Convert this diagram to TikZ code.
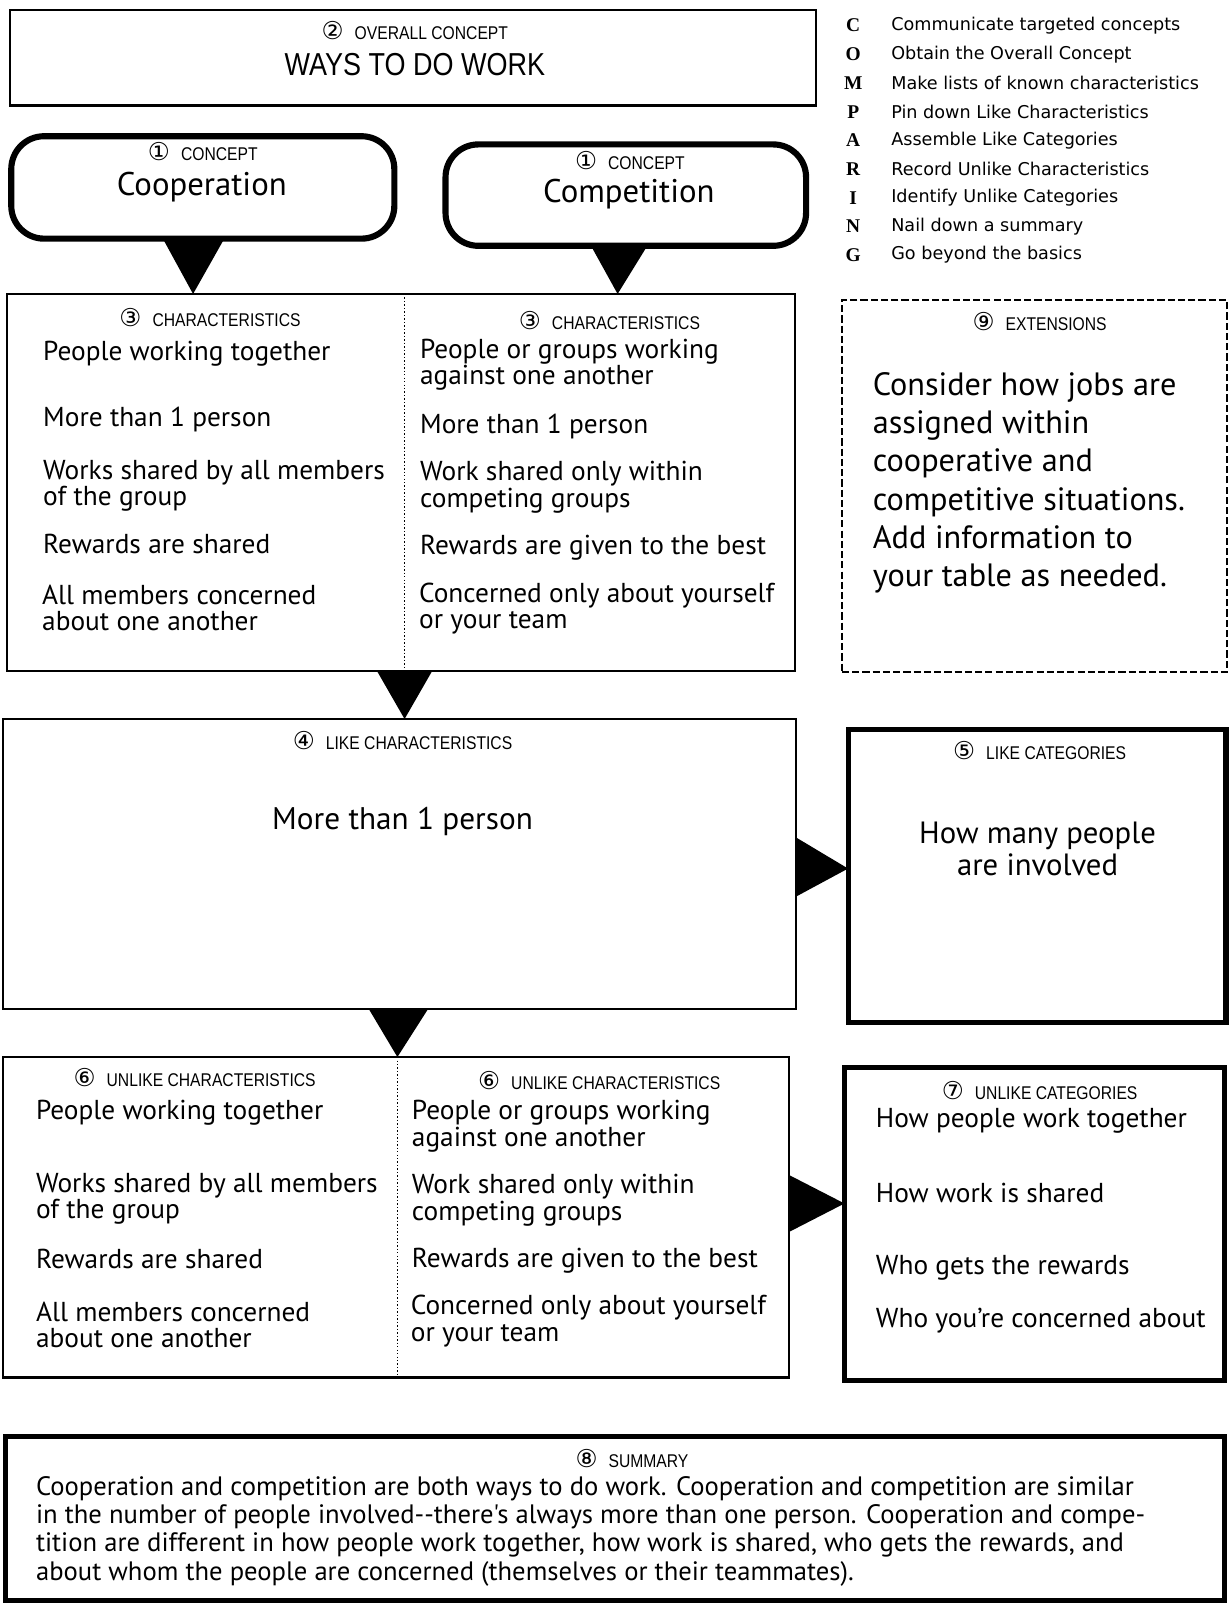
\documentclass[tikz,border=0pt]{standalone}
\usepackage{fontspec}
\setmainfont{PT Sans}
\newfontfamily\hand{PT Sans}
\newfontfamily\capsfont[FakeStretch=0.85]{Liberation Sans}
\newfontfamily\numfont{DejaVu Sans}
\newfontfamily\listfont{DejaVu Sans}
\newfontfamily\keyfont{Liberation Serif}
\usetikzlibrary{calc}

\newcommand\tagno[1]{{\numfont\fontsize{24}{24}\selectfont #1}\hspace{0.6em}}

\tikzset{
  frame/.style={draw, line width=2.2pt, inner sep=0pt, outer sep=0pt, anchor=north west},
  heavy/.style={draw, line width=5pt, inner sep=0pt, outer sep=0pt, anchor=north west},
  pill/.style={draw, line width=6pt, rounded corners=32pt, inner sep=0pt, outer sep=0pt, anchor=north west},
  extbox/.style={draw, line width=1.8pt, dash pattern=on 7pt off 3pt, inner sep=0pt, outer sep=0pt, anchor=north west},
  lbl/.style={font=\capsfont\fontsize{18}{20}\selectfont, inner sep=0pt},
  item/.style={font=\hand\fontsize{26.7}{26}\selectfont, align=left, anchor=west, inner sep=0pt},
  bigitem/.style={font=\hand\fontsize{30}{31}\selectfont, align=center, inner sep=0pt},
  keyletter/.style={font=\keyfont\bfseries\fontsize{19}{20}\selectfont, inner sep=0pt},
  keytext/.style={font=\listfont\fontsize{17.2}{18}\selectfont, anchor=west, inner sep=0pt},
  pointer/.style={fill=black},
  divider/.style={line width=1.4pt, dotted}
}

\begin{document}
\begin{tikzpicture}[x=1pt,y=-1pt]
\useasboundingbox (0,0) rectangle (1202,1568);

% ---- frames ----
\node[frame, minimum width=787pt, minimum height=93pt] (overall) at (10,10) {};
\node[pill, minimum width=374pt, minimum height=100pt] (coop) at (11,133) {};
\node[pill, minimum width=352pt, minimum height=99pt] (comp) at (435,141) {};
\node[frame, minimum width=769pt, minimum height=368pt] (chars) at (7,287) {};
\node[extbox, minimum width=376pt, minimum height=363pt] (ext) at (822,293) {};
\node[frame, minimum width=774pt, minimum height=283pt] (like) at (3,702) {};
\node[heavy, minimum width=369pt, minimum height=286pt] (likecat) at (828,712) {};
\node[frame, minimum width=767pt, minimum height=313pt] (unlike) at (3,1032) {};
\node[heavy, minimum width=371pt, minimum height=305pt] (unlikecat) at (824.5,1042.5) {};
\node[heavy, minimum width=1190pt, minimum height=160pt] (summary) at (5.5,1402.5) {};

% ---- column dividers ----
\coordinate (cdivtop) at ($(chars.north)+(3.5,0)$);
\coordinate (cdivbot) at ($(chars.south)+(3.5,0)$);
\draw[divider] (cdivtop) -- (cdivbot);
\coordinate (udivtop) at ($(unlike.north)+(1.5,0)$);
\coordinate (udivbot) at ($(unlike.south)+(1.5,0)$);
\draw[divider] (udivtop) -- (udivbot);

% ---- pointers between the stages ----
\fill[pointer] ($(coop.south)+(-39,0)$) -- ($(coop.south)+(21,0)$) -- ($(coop.south |- chars.north)+(-9.5,0)$) -- cycle;
\fill[pointer] ($(comp.south)+(-34,0)$) -- ($(comp.south)+(21,0)$) -- ($(comp.south |- chars.north)+(-8,0)$) -- cycle;
\fill[pointer] ($(cdivbot)+(-27,0)$) -- ($(cdivbot)+(27,0)$) -- (cdivbot |- like.north) -- cycle;
\fill[pointer] ($(like.east)+(0,-26)$) -- ($(like.east)+(0,32)$) -- ($(likecat.west |- like.east)+(0,4.5)$) -- cycle;
\fill[pointer] ($(udivtop |- like.south)+(-28,0)$) -- ($(udivtop |- like.south)+(30,0)$) -- (udivtop) -- cycle;
\fill[pointer] ($(unlike.east)+(0,-41.5)$) -- ($(unlike.east)+(0,14.5)$) -- ($(unlikecat.west |- unlike.east)+(0,-13.5)$) -- cycle;

% ---- overall concept ----
\node[lbl] (overalltag) at (405,30) {\tagno{②}OVERALL CONCEPT};
\node[font=\capsfont\fontsize{31}{33}\selectfont, inner sep=0pt] (overalltxt) at (405,63) {WAYS TO DO WORK};

% ---- COMPARING key ----
\foreach \n/\L/\T in {0/C/Communicate targeted concepts,
                       1/O/Obtain the Overall Concept,
                       2/M/Make lists of known characteristics,
                       3/P/Pin down Like Characteristics,
                       4/A/Assemble Like Categories,
                       5/R/Record Unlike Characteristics,
                       6/I/Identify Unlike Categories,
                       7/N/Nail down a summary,
                       8/G/Go beyond the basics}{
  \node[keyletter] (key\n) at (833,25+28*\n) {\L};
  \node[keytext] (keytxt\n) at (870,25+28*\n) {\T};
}

% ---- concepts ----
\node[lbl] (cooptag) at (198,148) {\tagno{①}CONCEPT};
\node[bigitem, font=\hand\fontsize{32}{33}\selectfont] (cooptxt) at (197,183) {Cooperation};
\node[lbl] (comptag) at (615,157) {\tagno{①}CONCEPT};
\node[bigitem, font=\hand\fontsize{32}{33}\selectfont] (comptxt) at (614,190) {Competition};

% ---- characteristics ----
\node[lbl] (charltag) at (205,310) {\tagno{③}CHARACTERISTICS};
\node[lbl] (charrtag) at (595,313) {\tagno{③}CHARACTERISTICS};
\node[item] (cl1) at (42,345) {People working together};
\node[item] (cl2) at (42,410) {More than 1 person};
\node[item] (cl3) at (42,474.5) {Works shared by all members\\of the group};
\node[item] (cl4) at (42,531) {Rewards are shared};
\node[item] (cl5) at (41,593.5) {All members concerned\\about one another};
\node[item] (cr1) at (410,356) {People or groups working\\against one another};
\node[item] (cr2) at (410,416) {More than 1 person};
\node[item] (cr3) at (410,475.5) {Work shared only within\\competing groups};
\node[item] (cr4) at (410,535) {Rewards are given to the best};
\node[item] (cr5) at (409,594) {Concerned only about yourself\\or your team};

% ---- extensions ----
\node[lbl] (exttag) at (1015,314) {\tagno{⑨}EXTENSIONS};
\node[font=\hand\fontsize{31.5}{37.4}\selectfont, align=left, anchor=west, inner sep=0pt] (exttxt) at (852,471.5)
  {Consider how jobs are\\assigned within\\cooperative and\\competitive situations.\\Add information to\\your table as needed.};

% ---- like characteristics / categories ----
\node[lbl] (liketag) at (393,723) {\tagno{④}LIKE CHARACTERISTICS};
\node[bigitem, font=\hand\fontsize{30.5}{31}\selectfont] (liketxt) at (393,802) {More than 1 person};
\node[lbl] (likecattag) at (1015,733) {\tagno{⑤}LIKE CATEGORIES};
\node[bigitem] (likecattxt) at (1013,828.5) {How many people\\are involved};

% ---- unlike characteristics ----
\node[lbl] (unltag) at (190,1052) {\tagno{⑥}UNLIKE CHARACTERISTICS};
\node[lbl] (unrtag) at (585,1055) {\tagno{⑥}UNLIKE CHARACTERISTICS};
\node[item] (ul1) at (35,1086) {People working together};
\node[item] (ul2) at (35,1170.5) {Works shared by all members\\of the group};
\node[item] (ul3) at (35,1229) {Rewards are shared};
\node[item] (ul4) at (35,1293.5) {All members concerned\\about one another};
\node[item] (ur1) at (402,1099.5) {People or groups working\\against one another};
\node[item] (ur2) at (402,1172) {Work shared only within\\competing groups};
\node[item] (ur3) at (402,1231) {Rewards are given to the best};
\node[item] (ur4) at (401,1289.5) {Concerned only about yourself\\or your team};

% ---- unlike categories ----
\node[lbl] (unlcattag) at (1015,1065) {\tagno{⑦}UNLIKE CATEGORIES};
\node[item] (uc1) at (855,1094) {How people work together};
\node[item] (uc2) at (855,1165) {How work is shared};
\node[item] (uc3) at (855,1238) {Who gets the rewards};
\node[item] (uc4) at (855,1289) {Who you’re concerned about};

% ---- summary ----
\node[lbl] (sumtag) at (617,1424) {\tagno{⑧}SUMMARY};
\node[item, font=\hand\fontsize{26}{27.5}\selectfont] (sumtxt) at (35,1495)
  {Cooperation and competition are both ways to do work. Cooperation and competition are similar\\
   in the number of people involved--there's always more than one person. Cooperation and compe-\\
   tition are different in how people work together, how work is shared, who gets the rewards, and\\
   about whom the people are concerned (themselves or their teammates).};
\end{tikzpicture}
\end{document}
